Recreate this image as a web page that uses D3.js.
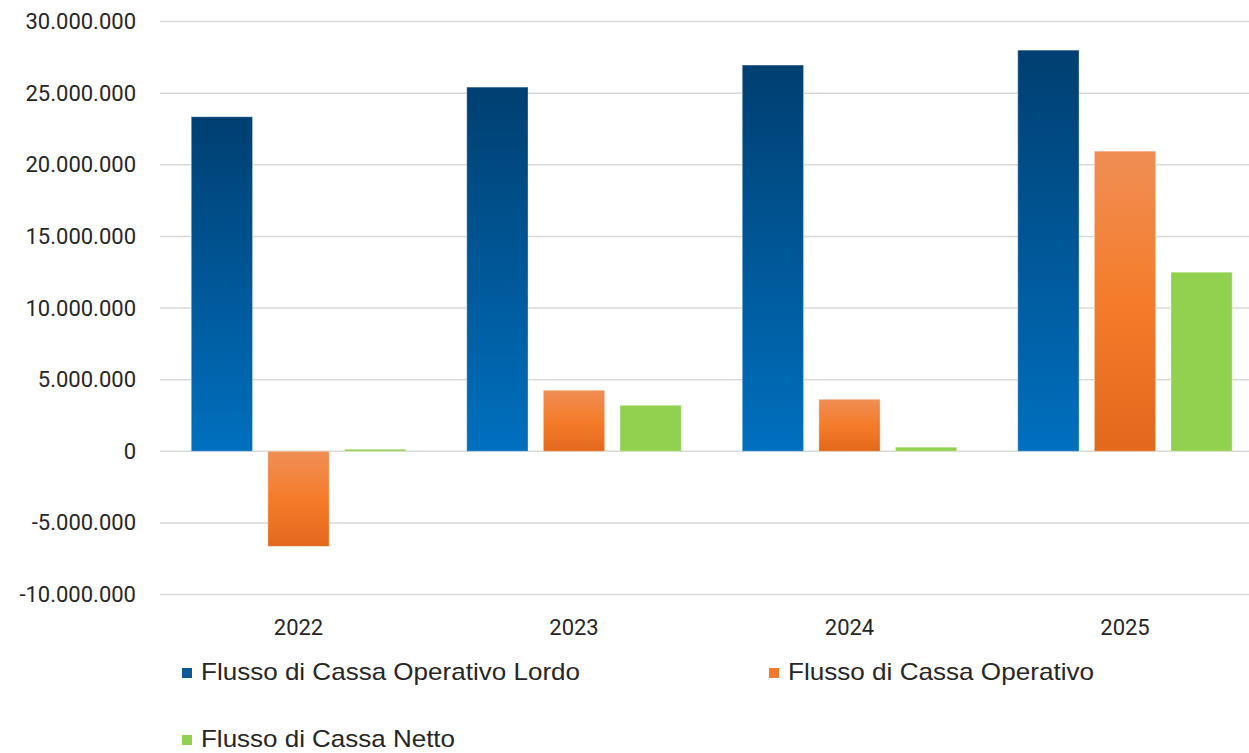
<!DOCTYPE html>
<html><head><meta charset="utf-8">
<script src="https://cdn.jsdelivr.net/npm/d3@7"></script>
<style>body{margin:0;background:#fff;}svg{display:block;font-family:Roboto,"Liberation Sans",Arial,sans-serif;}</style>
</head><body><svg id="c" width="1249" height="753"></svg>
<script>
const years = ["2022","2023","2024","2025"];
const seriesNames = ["Flusso di Cassa Operativo Lordo","Flusso di Cassa Operativo","Flusso di Cassa Netto"];
const lordo = [23350000, 25420000, 26960000, 28000000];
const operativo = [-6640000, 4260000, 3630000, 20950000];
const netto = [140000, 3210000, 280000, 12500000];
const yTicks = [-10000000,-5000000,0,5000000,10000000,15000000,20000000,25000000,30000000];

const series = [lordo, operativo, netto];
const svg = d3.select("#c");
const defs = svg.append("defs");
const gBlue = defs.append("linearGradient").attr("id","gBlue").attr("x1",0).attr("y1",0).attr("x2",0).attr("y2",1);
gBlue.append("stop").attr("offset","0%").attr("stop-color","#003f71");
gBlue.append("stop").attr("offset","100%").attr("stop-color","#0070bf");
const gOr = defs.append("linearGradient").attr("id","gOr").attr("x1",0).attr("y1",0).attr("x2",0).attr("y2",1);
gOr.append("stop").attr("offset","0%").attr("stop-color","#f08e55");
gOr.append("stop").attr("offset","50%").attr("stop-color","#f47c2a");
gOr.append("stop").attr("offset","100%").attr("stop-color","#e2691c");
const fills = ["url(#gBlue)","url(#gOr)","#92d050"];
const legendFills = ["#0d5a99","#f27a2a","#92d050"];

const y = d3.scaleLinear().domain([-10000000,30000000]).range([594.5,21.5]);
const x0 = d3.scaleBand().domain(years).range([160.75,1262.75]).paddingInner(0).paddingOuter(0);
const x1 = d3.scaleBand().domain([0,1,2]).range([30.5, 275.5-30.5]).paddingInner(0.2).paddingOuter(0);

const fmt = v => d3.format(",")(v).replace(/,/g,".").replace("−","-");
const FONT = "Roboto,'Liberation Sans',Arial,sans-serif";

// grid
svg.append("g").selectAll("line").data(yTicks).join("line")
  .attr("x1",160).attr("x2",1249).attr("y1",d=>y(d)).attr("y2",d=>y(d))
  .attr("stroke","#d9d9d9").attr("stroke-width",1.5);

// y axis labels
const yAxis = d3.axisLeft(y).tickValues(yTicks).tickFormat(fmt).tickSize(0).tickPadding(0);
const ya = svg.append("g").attr("transform","translate(136,0)").call(yAxis);
ya.select(".domain").remove();
ya.selectAll("text").attr("font-size",22).attr("fill","#262626").attr("font-family",FONT);

// x axis labels
const xAxis = d3.axisBottom(x0).tickSize(0).tickPadding(0);
const xa = svg.append("g").attr("transform","translate(0,619)").call(xAxis);
xa.select(".domain").remove();
xa.selectAll("text").attr("font-size",22).attr("fill","#262626").attr("dy","0.71em").attr("font-family",FONT);

// bars
years.forEach((yr,i)=>{
  const g = svg.append("g").attr("transform",`translate(${x0(yr)},0)`);
  g.selectAll("rect").data(series.map((s,k)=>({k, v:s[i]}))).join("rect")
    .attr("x",d=>x1(d.k)).attr("width",x1.bandwidth())
    .attr("y",d=>y(Math.max(0,d.v))).attr("height",d=>Math.abs(y(d.v)-y(0)))
    .attr("fill",d=>fills[d.k])
    .attr("stroke","rgba(255,255,255,0.35)").attr("stroke-width",1);
});

// legend
const legPos = [[182,680,379],[769,680,306],[182,747,254]];
const lg = svg.append("g");
seriesNames.forEach((n,k)=>{
  const [lx,ly,tl] = legPos[k];
  lg.append("rect").attr("x",lx).attr("y",ly-12).attr("width",10).attr("height",10).attr("fill",legendFills[k]);
  lg.append("text").attr("x",lx+19).attr("y",ly).attr("font-size",24)
    .attr("textLength",tl).attr("lengthAdjust","spacingAndGlyphs")
    .attr("fill","#262626").attr("font-family","'Liberation Sans',Arial,sans-serif").text(n);
});
</script></body></html>
